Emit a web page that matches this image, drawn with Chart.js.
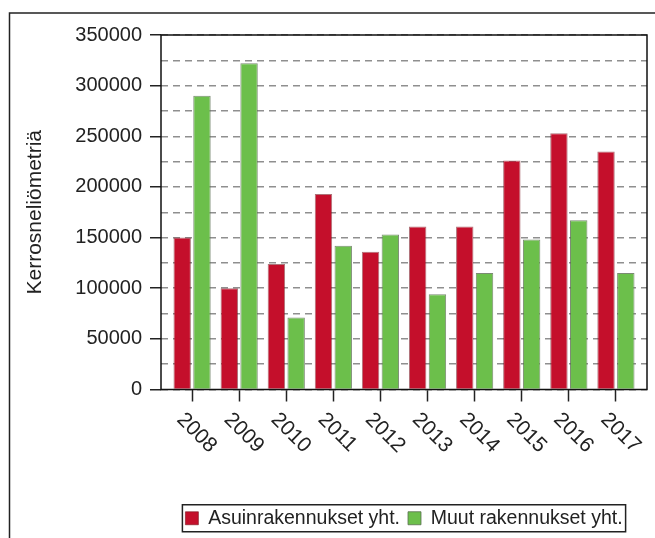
<!DOCTYPE html>
<html>
<head>
<meta charset="utf-8">
<script src="https://cdn.jsdelivr.net/npm/chart.js@4.4.0/dist/chart.umd.min.js"></script>
<style>
  body { margin: 0; background: #fff; }
  canvas { display: block; }
</style>
</head>
<body>
<canvas id="grafico" width="655" height="538"></canvas>
<script>
const vuodet = ['2008', '2009', '2010', '2011', '2012', '2013', '2014', '2015', '2016', '2017'];
const asuinrakennukset = [150000, 100000, 124000, 193000, 136000, 161000, 161000, 226000, 253000, 235000];
const muutRakennukset = [290000, 322000, 71000, 142000, 153000, 94000, 115000, 148000, 167000, 115000];
const yTicks = [0, 50000, 100000, 150000, 200000, 250000, 300000, 350000];
const yApuviivat = [25000, 75000, 125000, 175000, 225000, 275000, 325000];

const fontti = "'Liberation Sans', Arial, sans-serif";

// kehys, laatikko ja vinot vuosiluvut
const piirrot = {
    id: 'piirrot',
    beforeDraw(chart) {
        const ctx = chart.ctx;
        ctx.save();
        ctx.strokeStyle = '#222';
        ctx.lineWidth = 1.5;
        ctx.beginPath();
        ctx.moveTo(9.5, 538);
        ctx.lineTo(9.5, 13);
        ctx.lineTo(655, 13);
        ctx.stroke();
        ctx.restore();
    },
    afterDraw(chart) {
        const ctx = chart.ctx;
        const a = chart.chartArea;
        ctx.save();
        ctx.strokeStyle = '#111';
        ctx.lineWidth = 1.5;
        ctx.strokeRect(a.left, a.top, a.right - a.left, a.bottom - a.top);

        const x = chart.scales.x;
        ctx.fillStyle = '#222';
        ctx.font = '21px ' + fontti;
        ctx.textAlign = 'left';
        ctx.textBaseline = 'alphabetic';
        vuodet.forEach((v, i) => {
            const px = x.getPixelForValue(i);
            ctx.save();
            ctx.translate(px - 16, a.bottom + 31);
            ctx.rotate(Math.PI / 4);
            ctx.fillText(v, 0, 0);
            ctx.restore();
        });

        // selitteen laatikko
        const boxes = chart.legend.legendHitBoxes;
        if (boxes && boxes.length) {
            const l = Math.min(...boxes.map(b => b.left)) - 3;
            const r = Math.max(...boxes.map(b => b.left + b.width)) + 3;
            const cy = boxes[0].top + boxes[0].height / 2;
            ctx.strokeStyle = '#222';
            ctx.lineWidth = 1.5;
            ctx.strokeRect(l, cy - 13.5, r - l, 27);
        }
        ctx.restore();
    }
};

new Chart(document.getElementById('grafico').getContext('2d'), {
    type: 'bar',
    data: {
        datasets: [{
            label: 'Asuinrakennukset yht.',
            data: asuinrakennukset.map((v, i) => ({x: i, y: v})),
            backgroundColor: '#c40f2b',
            borderColor: 'rgba(120,20,30,0.6)',
            borderWidth: 1,
            categoryPercentage: 0.84,
            barPercentage: 0.88
        }, {
            label: 'Muut rakennukset yht.',
            data: muutRakennukset.map((v, i) => ({x: i, y: v})),
            backgroundColor: '#6cbf4b',
            borderColor: 'rgba(90,110,80,0.8)',
            borderWidth: 1,
            categoryPercentage: 0.84,
            barPercentage: 0.88
        }]
    },
    options: {
        responsive: false,
        animation: false,
        layout: { padding: { top: 35, right: 8, left: 0, bottom: 0 } },
        plugins: {
            tooltip: { enabled: false },
            legend: {
                position: 'bottom',
                fullSize: false,
                labels: {
                    boxWidth: 13,
                    boxHeight: 13,
                    padding: 8,
                    color: '#222',
                    font: { family: fontti, size: 19.5 }
                }
            }
        },
        scales: {
            x: {
                type: 'linear',
                min: -0.66,
                max: 9.66,
                offset: false,
                afterBuildTicks: s => { s.ticks = vuodet.map((v, i) => ({value: i})); },
                afterFit: s => { s.height = 111; },
                ticks: { display: false },
                grid: {
                    offset: false,
                    drawOnChartArea: false,
                    drawTicks: true,
                    tickLength: 12,
                    tickColor: '#222',
                    tickWidth: 1.5
                },
                border: { display: false }
            },
            y: {
                min: 0,
                max: 350000,
                afterBuildTicks: s => {
                    s.ticks = yTicks.concat(yApuviivat).sort((p, q) => p - q).map(v => ({value: v}));
                },
                afterFit: s => { s.width = 161; },
                ticks: {
                    autoSkip: false,
                    padding: 8,
                    color: '#222',
                    font: { family: fontti, size: 20 },
                    callback: v => yTicks.includes(v) ? String(v) : ''
                },
                grid: {
                    color: '#8f8f8f',
                    lineWidth: 1.5,
                    tickLength: 11,
                    tickWidth: 1.5,
                    tickColor: c => yTicks.includes(c.tick.value) ? '#222' : 'rgba(0,0,0,0)'
                },
                border: { display: false, dash: [7, 5] },
                title: {
                    display: true,
                    text: 'Kerrosneliömetriä',
                    color: '#222',
                    padding: { top: 23, bottom: 0 },
                    font: { family: fontti, size: 21 }
                }
            }
        }
    },
    plugins: [piirrot]
});
</script>
</body>
</html>
